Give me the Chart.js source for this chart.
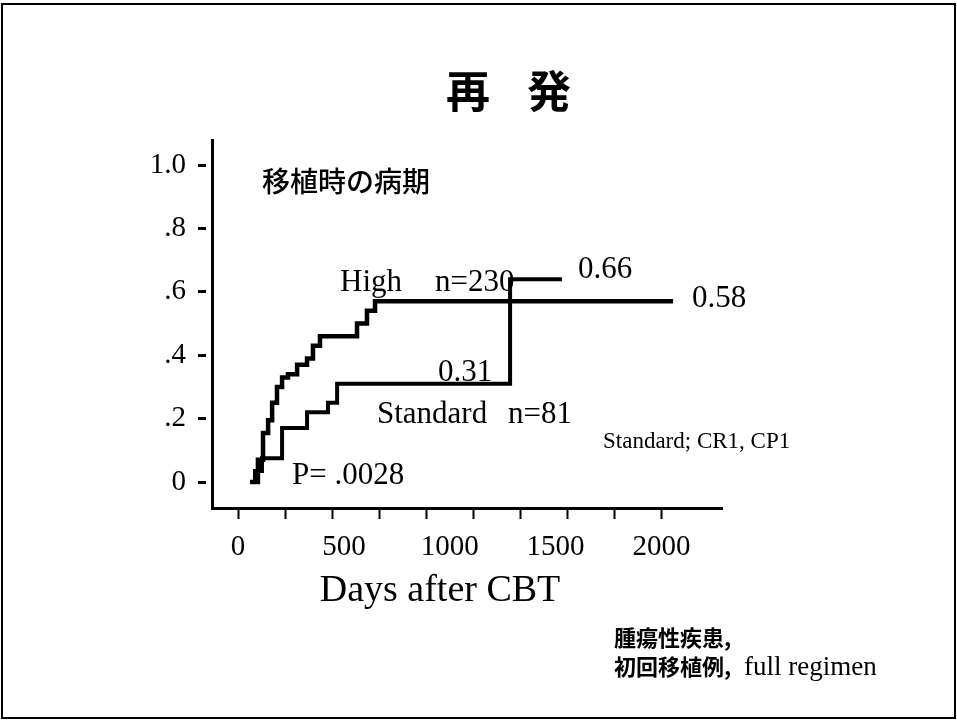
<!DOCTYPE html>
<html>
<head>
<meta charset="utf-8">
<script src="https://cdn.jsdelivr.net/npm/chart.js@4/dist/chart.umd.min.js"></script>
<style>
  html, body { margin: 0; padding: 0; background: #fff; }
  #wrap { position: relative; width: 957px; height: 720px; overflow: hidden; }
  #frame { position: absolute; left: 1px; top: 3px; width: 951px; height: 712px; border: 2px solid #000; }
  canvas { position: absolute; left: 0; top: 0; }
</style>
</head>
<body>
<div id="wrap">
  <div id="frame"></div>
  <canvas id="chart" width="957" height="720"></canvas>
</div>
<script>
// cumulative incidence of relapse (days, proportion)
const highDays = [57, 94, 118, 142, 161, 184, 208, 236, 279, 326, 354, 387, 562, 609, 647, 2055];
const highValues = [0, 0.07, 0.155, 0.195, 0.25, 0.30, 0.33, 0.34, 0.37, 0.39, 0.43, 0.46, 0.50, 0.54, 0.57, 0.57];
const standardDays = [57, 80, 113, 208, 326, 425, 468, 1285, 1530];
const standardValues = [0, 0.035, 0.075, 0.17, 0.22, 0.25, 0.31, 0.64, 0.64];

const xTickMarks = [0, 222, 444, 667, 889, 1111, 1333, 1556, 1778, 2000];
const xTickLabels = [0, 500, 1000, 1500, 2000];
const yTickValues = [0, 0.2, 0.4, 0.6, 0.8, 1.0];
const yTickLabels = ["0", ".2", ".4", ".6", ".8", "1.0"];

const serif = "'Liberation Serif', 'DejaVu Serif', serif";
const cjk = "'Noto Sans CJK JP', 'Noto Sans', sans-serif";

function points(days, values) {
  return days.map((d, i) => ({ x: d, y: values[i] }));
}

function text(ctx, str, x, y, font, align) {
  ctx.font = font;
  ctx.textAlign = align || "left";
  ctx.fillText(str, x, y);
}

const labelsPlugin = {
  id: "labels",
  afterDraw(chart) {
    const ctx = chart.ctx;
    ctx.save();
    ctx.fillStyle = "#000";
    ctx.textBaseline = "middle";
    text(ctx, "再", 468, 91, `bold 44px ${cjk}`, "center");
    text(ctx, "発", 549, 91, `bold 44px ${cjk}`, "center");
    text(ctx, "移植時の病期", 262, 181, `500 28px ${cjk}`);
    text(ctx, "腫瘍性疾患,", 614, 638, `bold 22px ${cjk}`);
    text(ctx, "初回移植例,", 614, 667, `bold 22px ${cjk}`);
    ctx.textBaseline = "alphabetic";
    text(ctx, "full regimen", 744, 675, `27px ${serif}`);
    text(ctx, "High", 340, 291, `31px ${serif}`);
    text(ctx, "n=230", 435, 291, `31px ${serif}`);
    text(ctx, "0.66", 578, 278, `31px ${serif}`);
    text(ctx, "0.58", 692, 307, `31px ${serif}`);
    text(ctx, "0.31", 438, 381, `31px ${serif}`);
    text(ctx, "Standard", 377, 423, `31px ${serif}`);
    text(ctx, "n=81", 508, 423, `31px ${serif}`);
    text(ctx, "P= .0028", 292, 484, `31px ${serif}`);
    text(ctx, "Standard; CR1, CP1", 603, 448, `23px ${serif}`);
    text(ctx, "Days after CBT", 440, 601, `38px ${serif}`, "center");
    ctx.restore();
  },
};

new Chart(document.getElementById("chart"), {
  type: "line",
  data: {
    datasets: [
      {
        label: "High",
        data: points(highDays, highValues),
        stepped: true,
        borderColor: "#000",
        borderWidth: 4.5,
        pointRadius: 0,
        fill: false,
        borderCapStyle: "butt",
        borderJoinStyle: "miter",
      },
      {
        label: "Standard",
        data: points(standardDays, standardValues),
        stepped: true,
        borderColor: "#000",
        borderWidth: 4,
        pointRadius: 0,
        fill: false,
        borderCapStyle: "butt",
        borderJoinStyle: "miter",
      },
    ],
  },
  options: {
    responsive: false,
    animation: false,
    devicePixelRatio: 1,
    layout: { padding: { left: 0, top: 140, right: 235, bottom: 0 } },
    plugins: { legend: { display: false }, tooltip: { enabled: false } },
    scales: {
      x: {
        type: "linear",
        min: -123,
        max: 2286,
        afterFit: (scale) => { scale.height = 212; },
        afterBuildTicks: (scale) => {
          const all = [...new Set([...xTickMarks, ...xTickLabels])].sort((a, b) => a - b);
          scale.ticks = all.map((v) => ({ value: v }));
        },
        border: { display: true, color: "#000", width: 3 },
        grid: {
          drawOnChartArea: false,
          drawTicks: true,
          tickLength: 11,
          tickWidth: 2,
          tickColor: (c) => (xTickMarks.includes(c.tick.value) ? "#000" : "rgba(0,0,0,0)"),
        },
        ticks: {
          autoSkip: false,
          maxRotation: 0,
          padding: 11,
          color: "#000",
          font: { family: serif, size: 29 },
          callback: (v) => (xTickLabels.includes(v) ? String(v) : ""),
        },
      },
      y: {
        min: -0.082,
        max: 1.079,
        afterFit: (scale) => { scale.width = 212; },
        afterBuildTicks: (scale) => {
          scale.ticks = yTickValues.map((v) => ({ value: v }));
        },
        border: { display: true, color: "#000", width: 3 },
        grid: {
          drawOnChartArea: false,
          drawTicks: true,
          tickLength: 14,
          tickWidth: 3,
          tickColor: "#000",
          tickBorderDash: [8, 20],
        },
        ticks: {
          autoSkip: false,
          padding: 12,
          color: "#000",
          font: { family: serif, size: 29 },
          callback: (v) => {
            const i = yTickValues.indexOf(v);
            return i >= 0 ? yTickLabels[i] : "";
          },
        },
      },
    },
  },
  plugins: [labelsPlugin],
});
</script>
</body>
</html>
